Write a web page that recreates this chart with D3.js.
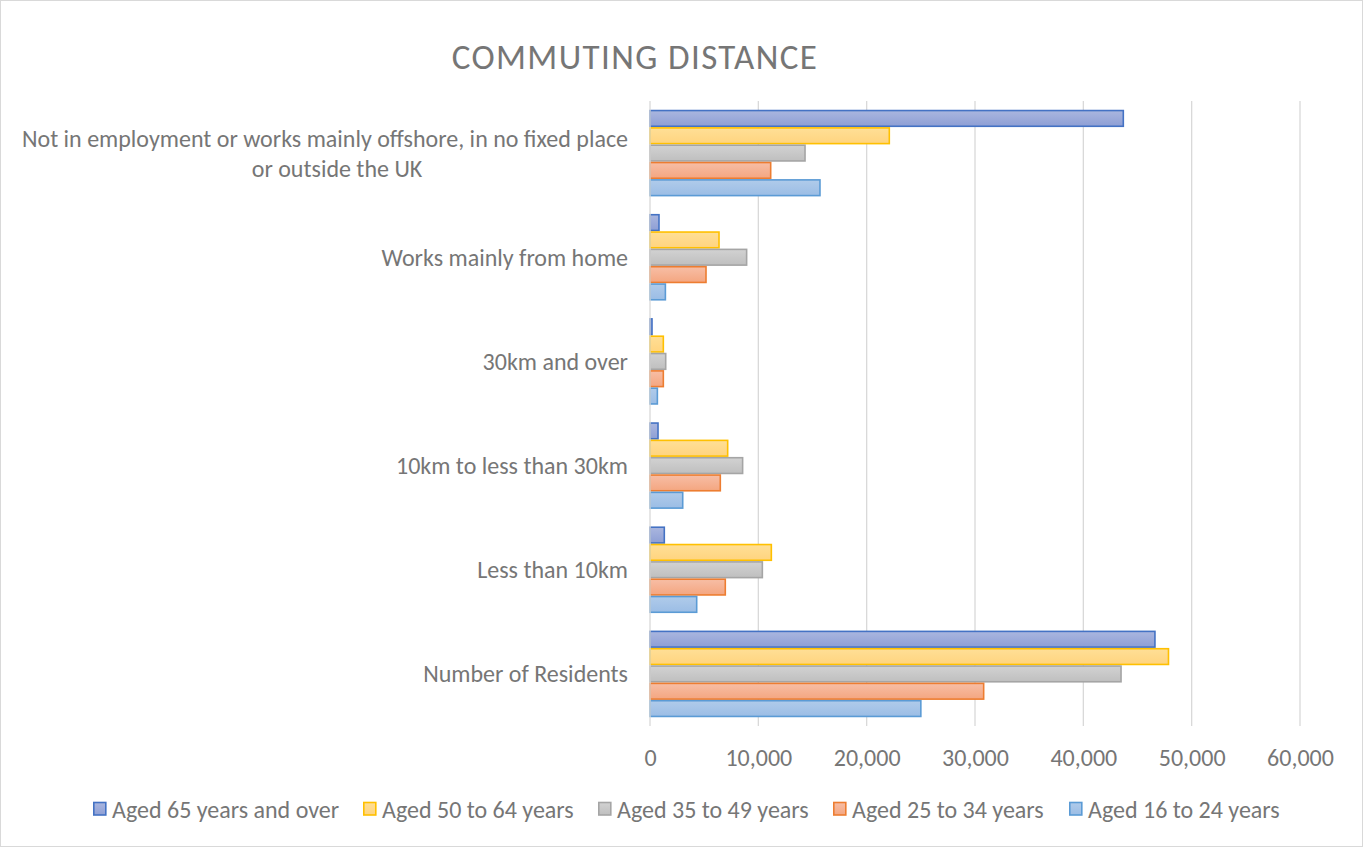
<!DOCTYPE html>
<html>
<head>
<meta charset="utf-8">
<script src="https://cdn.jsdelivr.net/npm/d3@7"></script>
<style>
  html, body { margin: 0; padding: 0; background: #fff; }
  svg { display: block; }
  text { font-family: Carlito, Calibri, Lato, "Open Sans", sans-serif; fill: #767676; }
</style>
</head>
<body>
<svg id="chart" width="1363" height="847"></svg>
<script>
// ---- data ----
const title = "COMMUTING DISTANCE";
const categories = [
  "Not in employment or works mainly offshore, in no fixed place\nor outside the UK",
  "Works mainly from home",
  "30km and over",
  "10km to less than 30km",
  "Less than 10km",
  "Number of Residents"
];
const seriesNames = [
  "Aged 65 years and over",
  "Aged 50 to 64 years",
  "Aged 35 to 49 years",
  "Aged 25 to 34 years",
  "Aged 16 to 24 years"
];
const aged65plus  = [43690,   830,  185,  740,  1320, 46610];
const aged50to64  = [22090,  6370, 1230, 7170, 11200, 47860];
const aged35to49  = [14310,  8920, 1450, 8550, 10370, 43480];
const aged25to34  = [11140,  5170, 1230, 6490,  6950, 30800];
const aged16to24  = [15690,  1420,  680, 3020,  4310, 25000];
const xTicks = [0, 10000, 20000, 30000, 40000, 50000, 60000];

const seriesValues = [aged65plus, aged50to64, aged35to49, aged25to34, aged16to24];
const strokes = ["#4472c4", "#ffc000", "#a5a5a5", "#ed7d31", "#5b9bd5"];
const fillTop = ["#aab6df", "#ffdf96", "#d2d2d2", "#f7bea6", "#b0cbea"];
const fillBot = ["#8e9fd5", "#ffd47f", "#bfbfbf", "#f4a680", "#9bbde5"];

// ---- layout ----
const svg = d3.select("#chart");
const W = 1363, H = 847;
const plot = { left: 650, right: 1300, top: 101, bottom: 726 };
const labelSize = "24px";

svg.append("rect").attr("x", 0.5).attr("y", 0.5).attr("width", W - 1).attr("height", H - 1)
  .attr("fill", "#fff").attr("stroke", "#d9d9d9");

const defs = svg.append("defs");
seriesNames.forEach((s, i) => {
  const g = defs.append("linearGradient").attr("id", "grad" + i)
    .attr("x1", 0).attr("y1", 0).attr("x2", 0).attr("y2", 1);
  g.append("stop").attr("offset", "0%").attr("stop-color", fillTop[i]);
  g.append("stop").attr("offset", "100%").attr("stop-color", fillBot[i]);
});

const x = d3.scaleLinear().domain([0, 60000]).range([plot.left, plot.right]);
const y0 = d3.scaleBand().domain(categories).range([plot.top, plot.bottom])
  .paddingInner(0.168).paddingOuter(0.084);
const y1 = d3.scaleBand().domain(seriesNames).range([0, y0.bandwidth()]);

// gridlines
svg.append("g").selectAll("line").data(xTicks.slice(1)).join("line")
  .attr("x1", d => x(d)).attr("x2", d => x(d))
  .attr("y1", plot.top).attr("y2", plot.bottom)
  .attr("stroke", "#d9d9d9").attr("stroke-width", 1.3);

// title
svg.append("text").attr("x", 635).attr("y", 69).attr("text-anchor", "middle")
  .style("font-size", "35px").style("letter-spacing", "1.4px").text(title);

// bars
const groups = svg.append("g").selectAll("g").data(categories).join("g")
  .attr("transform", d => `translate(0,${y0(d)})`);
groups.selectAll("rect").data((c, ci) => seriesNames.map((s, si) => ({ s, si, v: seriesValues[si][ci] })))
  .join("rect")
  .attr("x", x(0))
  .attr("y", d => y1(d.s) + 0.8)
  .attr("width", d => x(d.v) - x(0))
  .attr("height", y1.bandwidth() - 1.6)
  .attr("fill", d => `url(#grad${d.si})`)
  .attr("stroke", d => strokes[d.si])
  .attr("stroke-width", 1.6);

// axis line at zero
svg.append("line").attr("x1", x(0)).attr("x2", x(0)).attr("y1", plot.top).attr("y2", plot.bottom)
  .attr("stroke", "#d9d9d9").attr("stroke-width", 1.3);

// x axis tick labels
const xAxis = d3.axisBottom(x).tickValues(xTicks).tickSize(0).tickPadding(0)
  .tickFormat(d3.format(","));
const xa = svg.append("g").attr("transform", `translate(0,${plot.bottom})`).call(xAxis);
xa.select(".domain").remove();
xa.attr("font-family", null).attr("font-size", null);
xa.selectAll("text").attr("dy", null).attr("y", 40).style("font-size", labelSize).attr("fill", null);

// y axis category labels
const ya = svg.append("g");
categories.forEach(c => {
  const lines = c.split("\n");
  const cy = y0(c) + y0.bandwidth() / 2;
  const lh = 30;
  const t = ya.append("text").style("font-size", labelSize).attr("text-anchor", "end");
  lines.forEach((ln, i) => {
    t.append("tspan").attr("x", 628).attr("y", cy + (i - (lines.length - 1) / 2) * lh + 8.5).text(ln);
  });
  if (lines.length > 1) {
    const tspans = t.selectAll("tspan").nodes();
    const widths = tspans.map(n => n.getComputedTextLength());
    const maxW = d3.max(widths);
    const cx = 628 - maxW / 2;
    t.attr("text-anchor", "middle");
    tspans.forEach((n, i) => d3.select(n).attr("x", widths[i] === maxW ? cx : cx + 12));
  }
});

// legend
const legendX = [93, 363, 598, 833, 1069];
const leg = svg.append("g").selectAll("g").data(seriesNames).join("g")
  .attr("transform", (d, i) => `translate(${legendX[i]},809)`);
leg.append("rect").attr("x", 0.8).attr("y", -6.5).attr("width", 12).attr("height", 12.5)
  .attr("fill", (d, i) => `url(#grad${i})`).attr("stroke", (d, i) => strokes[i]).attr("stroke-width", 1.6);
leg.append("text").attr("x", 19).attr("y", 9).style("font-size", labelSize).text(d => d);
</script>
</body>
</html>
